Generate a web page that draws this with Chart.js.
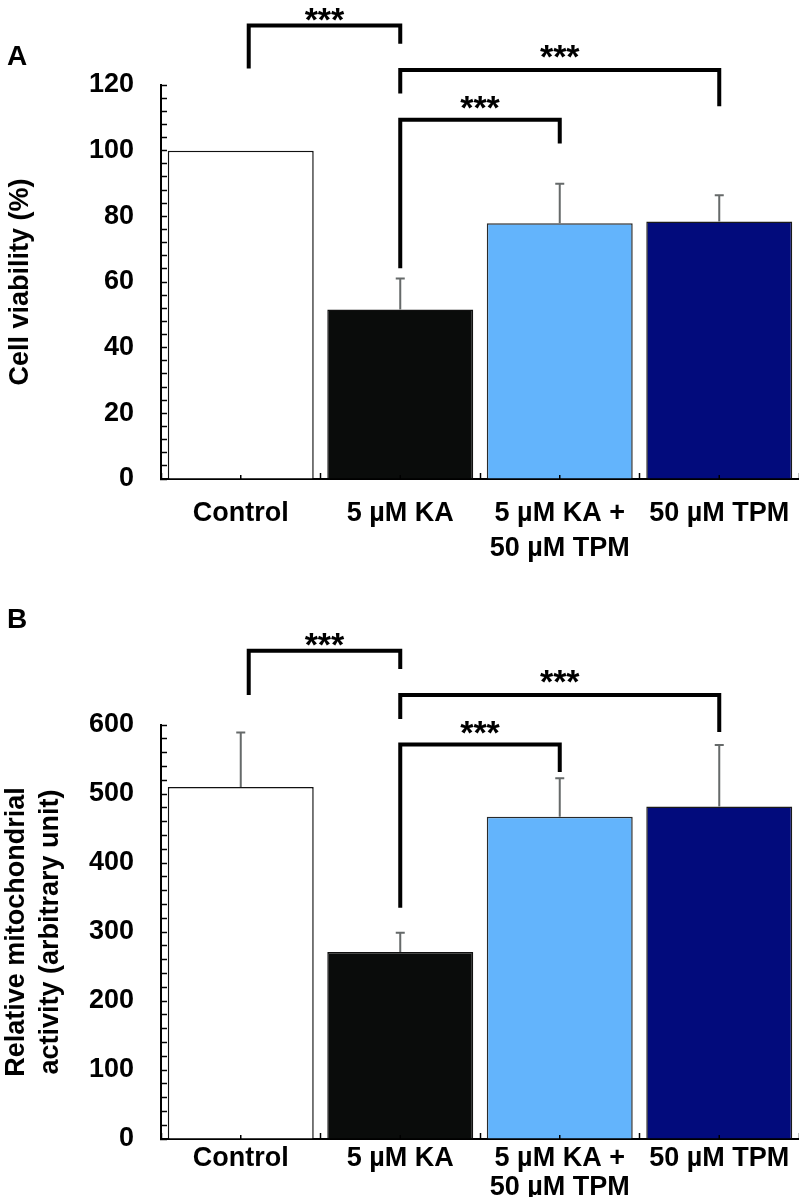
<!DOCTYPE html>
<html>
<head>
<meta charset="utf-8">
<script src="https://cdn.jsdelivr.net/npm/chart.js@4"></script>
<style>
  body { margin: 0; background: #fff; }
  canvas { position: absolute; left: 0; }
</style>
</head>
<body>
<canvas id="chartA" width="799" height="600" style="top:0"></canvas>
<canvas id="chartB" width="799" height="597" style="top:600px"></canvas>
<script>
const categories = ['Control', '5 µM KA', ['5 µM KA +', '50 µM TPM'], '50 µM TPM'];
const barColors = ['#ffffff', '#0a0c0b', '#63b4fc', '#020b7c'];
const barBorders = ['#111111', '#111111', '#2a2a2a', '#1a1a1a'];

// panel A
const viability = [100, 51.6, 77.9, 78.4];
const viabilitySd = [0, 9.5, 12.0, 8.0];
const viabilityTicks = [0, 20, 40, 60, 80, 100, 120];

// panel B
const mito = [510, 271, 467, 482];
const mitoSd = [79, 28, 56, 89];
const mitoTicks = [0, 100, 200, 300, 400, 500, 600];

// brackets: [from, to, bar level, left leg end, right leg end, stars level]
const bracketsA = [
    [0.05, 1, 138.1, 125.0, 132.6, 141.5],
    [1, 3, 124.6, 117.4, 113.5, 130.2],
    [1, 2, 109.4, 64.2, 102.2, 114.8],
];
const bracketsB = [
    [0.05, 1, 707.7, 643.5, 681.2, 723.2],
    [1, 3, 643.5, 608.7, 589.9, 669.6],
    [1, 2, 571.7, 335, 532, 596.4],
];

const FONT = "'Liberation Sans', Arial, sans-serif";
Chart.defaults.font.family = FONT;
Chart.defaults.color = '#000';

const extras = {
    id: 'extras',
    afterDatasetsDraw(chart, args, opts) {
        const ctx = chart.ctx;
        const x = chart.scales.x, y = chart.scales.y;
        const values = chart.data.datasets[0].data;
        ctx.save();

        // error bars (upper half only)
        ctx.strokeStyle = '#666a6a';
        ctx.lineWidth = 2;
        chart.getDatasetMeta(0).data.forEach((bar, i) => {
            if (!opts.sd[i]) return;
            const top = y.getPixelForValue(values[i] + opts.sd[i]);
            ctx.beginPath();
            ctx.moveTo(bar.x, bar.y);
            ctx.lineTo(bar.x, top);
            ctx.moveTo(bar.x - 4.5, top);
            ctx.lineTo(bar.x + 4.5, top);
            ctx.stroke();
        });

        // little ticks at category centres
        ctx.strokeStyle = '#000';
        ctx.lineWidth = 1.5;
        categories.forEach((c, i) => {
            const px = x.getPixelForValue(i);
            ctx.beginPath();
            ctx.moveTo(px, y.bottom);
            ctx.lineTo(px, y.bottom - 4);
            ctx.stroke();
        });

        // significance brackets
        ctx.lineWidth = 4;
        ctx.lineJoin = 'miter';
        ctx.lineCap = 'butt';
        ctx.fillStyle = '#000';
        ctx.font = 'bold 34px ' + FONT;
        ctx.textAlign = 'center';
        ctx.textBaseline = 'alphabetic';
        opts.brackets.forEach(([a, b, lvl, endA, endB, star]) => {
            const xa = x.getPixelForValue(a), xb = x.getPixelForValue(b);
            ctx.beginPath();
            ctx.moveTo(xa, y.getPixelForValue(endA));
            ctx.lineTo(xa, y.getPixelForValue(lvl));
            ctx.lineTo(xb, y.getPixelForValue(lvl));
            ctx.lineTo(xb, y.getPixelForValue(endB));
            ctx.stroke();
            const m = ctx.measureText('***');
            const cy = y.getPixelForValue(star) + (m.actualBoundingBoxAscent - m.actualBoundingBoxDescent) / 2;
            ctx.fillText('***', (xa + xb) / 2, cy);
        });

        // panel letter
        ctx.font = 'bold 28px ' + FONT;
        ctx.textAlign = 'left';
        ctx.fillText(opts.letter, 7, opts.letterY);
        ctx.restore();
    }
};

const makeChart = (id, values, sd, ticks, o) => new Chart(document.getElementById(id), {
    type: 'bar',
    data: {
        labels: categories,
        datasets: [{
            data: values,
            backgroundColor: barColors,
            borderColor: barBorders,
            borderWidth: 1.5,
            barPercentage: 0.915,
            categoryPercentage: 1,
        }],
    },
    options: {
        responsive: false,
        animation: false,
        layout: { padding: { top: o.top, left: 0, right: 0, bottom: 0 } },
        plugins: {
            legend: { display: false },
            tooltip: { enabled: false },
            extras: { sd: sd, brackets: o.brackets, letter: o.letter, letterY: o.letterY },
        },
        scales: {
            x: {
                z: 1,
                grid: { offset: true, drawOnChartArea: false, tickLength: -6, tickColor: '#000', tickWidth: 1.5 },
                border: { color: '#000', width: 2 },
                ticks: {
                    color: '#000', padding: o.xPad, maxRotation: 0, autoSkip: false,
                    font: { size: 27, weight: 'bold', lineHeight: o.xLh },
                },
                afterFit: (s) => {
                    s.height = o.xHeight;
                    s.paddingLeft = 0;
                    s.paddingRight = 0;
                },
            },
            y: {
                z: 1,
                min: 0,
                max: ticks[ticks.length - 1],
                grid: { drawOnChartArea: false, tickLength: -6, tickColor: '#000', tickWidth: 1.5 },
                border: { color: '#000', width: 2 },
                ticks: {
                    color: '#000', padding: 33, autoSkip: false, maxTicksLimit: 200,
                    stepSize: (ticks[1] - ticks[0]) / 5,
                    font: { size: 27, weight: 'bold' },
                    callback: (v) => ticks.includes(v) ? v : '',
                },
                title: {
                    display: true, text: o.title, color: '#000',
                    font: { size: 27, weight: 'bold', lineHeight: o.titleLh },
                    padding: { top: o.titlePad, bottom: 0 },
                },
                afterFit: (s) => { s.width = 161; },
            },
        },
    },
    plugins: [extras],
});

makeChart('chartA', viability, viabilitySd, viabilityTicks, {
    top: 85, xHeight: 121, xPad: 23, xLh: 1.3, brackets: bracketsA, letter: 'A', letterY: 65,
    title: 'Cell viability (%)', titleLh: 1.2, titlePad: 4,
});
makeChart('chartB', mito, mitoSd, mitoTicks, {
    top: 125, xHeight: 58, xPad: 12, xLh: 1.04, brackets: bracketsB, letter: 'B', letterY: 28,
    title: ['Relative mitochondrial', 'activity (arbitrary unit)'], titleLh: 1.25, titlePad: 0,
});
</script>
</body>
</html>
